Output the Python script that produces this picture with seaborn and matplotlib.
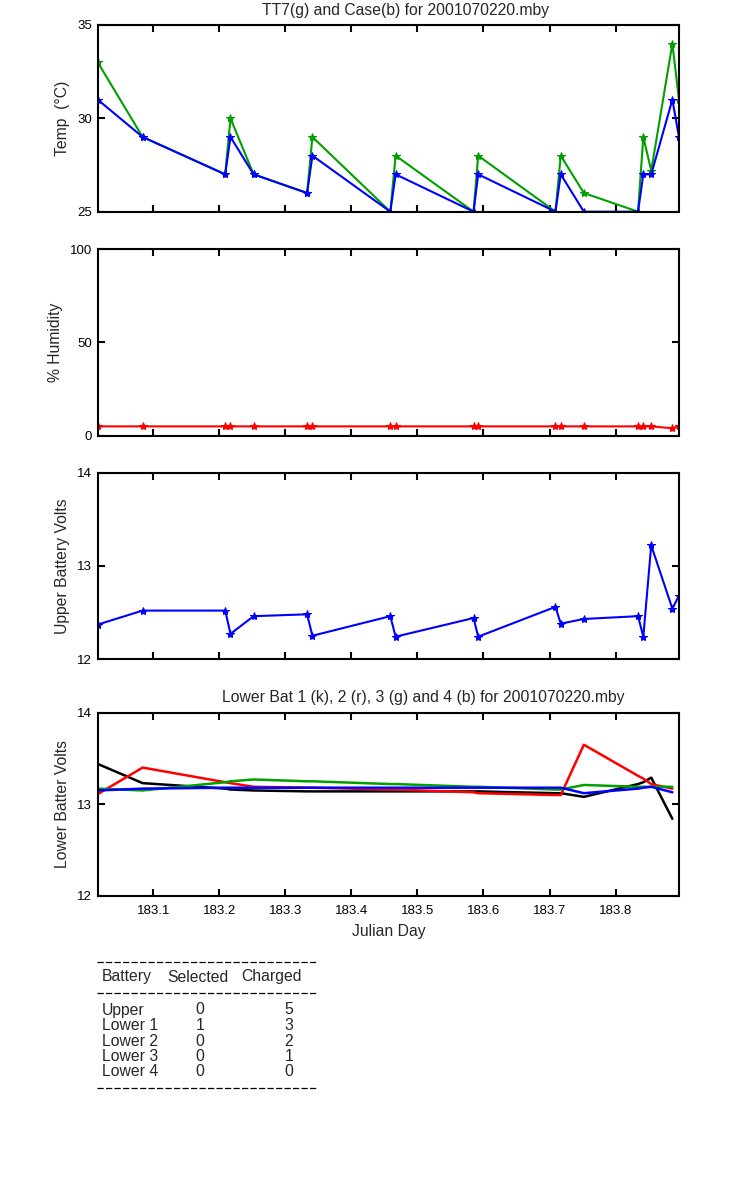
import pandas as pd
import matplotlib
matplotlib.use("Agg")
import matplotlib.pyplot as plt
from matplotlib.lines import Line2D
import seaborn as sns

# julian day of each record
day = [183.016, 183.084, 183.209, 183.217, 183.252, 183.333, 183.341, 183.459,
       183.467, 183.585, 183.592, 183.709, 183.717, 183.752, 183.834, 183.842,
       183.854, 183.886, 183.896]

# temperatures
tt7 = [33, 29, 27, 30, 27, 26, 29, 25, 28, 25, 28, 25, 28, 26, 25, 29, 27.2, 34, 31]
case = [31, 29, 27, 29, 27, 26, 28, 25, 27, 25, 27, 25, 27, 25, 25, 27, 27, 31, 29]

# humidity
humidity = [5, 5, 5, 5, 5, 5, 5, 5, 5, 5, 5, 5, 5, 5, 5, 5, 5, 4, 5]

# upper battery
upper_volts = [12.37, 12.52, 12.52, 12.27, 12.46, 12.48, 12.25, 12.46, 12.24, 12.44,
               12.24, 12.56, 12.38, 12.43, 12.46, 12.24, 13.22, 12.54, 12.68]

# lower batteries (no record at the last time)
lower_day = day[:-1]
lower1 = [13.44, 13.23, 13.17, 13.16, 13.15, 13.14, 13.14, 13.14, 13.14, 13.14,
          13.14, 13.12, 13.12, 13.08, 13.22, 13.24, 13.29, 12.84]
lower2 = [13.11, 13.40, 13.24, 13.23, 13.19, 13.18, 13.18, 13.16, 13.16, 13.13,
          13.12, 13.10, 13.10, 13.65, 13.31, 13.28, 13.22, 13.17]
lower3 = [13.17, 13.15, 13.24, 13.25, 13.27, 13.25, 13.25, 13.22, 13.22, 13.19,
          13.19, 13.16, 13.16, 13.21, 13.19, 13.19, 13.19, 13.19]
lower4 = [13.15, 13.17, 13.18, 13.18, 13.18, 13.18, 13.18, 13.18, 13.18, 13.18,
          13.18, 13.18, 13.18, 13.12, 13.17, 13.18, 13.19, 13.13]

# charge table
batteries = ["Upper", "Lower 1", "Lower 2", "Lower 3", "Lower 4"]
selected = [0, 1, 0, 0, 0]
charged = [5, 3, 2, 1, 0]

GREEN = "#00a000"
FS_TICK = 9.5
FS = 11.3

sns.set_theme(style="ticks")
plt.rcParams["font.family"] = ["Liberation Sans", "DejaVu Sans"]
plt.rcParams["font.size"] = FS
plt.rcParams["axes.linewidth"] = 1.5

fig = plt.figure(figsize=(7.5, 12), dpi=100)

xticks = [183.1, 183.2, 183.3, 183.4, 183.5, 183.6, 183.7, 183.8]
xlim = (day[0], day[-1])


def style_axes(ax, ylim, yticks, show_x=False):
    ax.set_xlim(*xlim)
    ax.set_ylim(*ylim)
    ax.set_xticks(xticks)
    ax.set_yticks(yticks)
    ax.tick_params(direction="in", length=5, width=1.5, top=True, right=True,
                   labelsize=FS_TICK, colors="black")
    ax.tick_params(axis="y", pad=4)
    ax.tick_params(axis="x", pad=7)
    if show_x:
        ax.set_xticklabels([f"{t:.1f}" for t in xticks])
    else:
        ax.set_xticklabels([])
    ax.set_xlabel("")
    for s in ax.spines.values():
        s.set_color("black")


W = 0.775
L = 0.1303
MS = 6

# temperature
ax1 = fig.add_axes([L, 0.8236, W, 0.1556])
t_df = pd.DataFrame({"day": day, "tt7": tt7, "case": case})
sns.lineplot(data=t_df, x="day", y="tt7", color=GREEN, marker="*", markersize=MS,
             markeredgecolor=GREEN, linewidth=1.5, estimator=None, ax=ax1)
sns.lineplot(data=t_df, x="day", y="case", color="blue", marker="*", markersize=MS,
             markeredgecolor="blue", linewidth=1.5, estimator=None, ax=ax1)
style_axes(ax1, (25, 35), [25, 30, 35])
ax1.set_ylabel("Temp  (°C)", fontsize=FS, labelpad=5)
ax1.set_title("TT7(g) and Case(b) for 2001070220.mby", fontsize=FS, x=0.53, pad=7)

# humidity
ax2 = fig.add_axes([L, 0.6369, W, 0.1556])
h_df = pd.DataFrame({"day": day, "humidity": humidity})
sns.lineplot(data=h_df, x="day", y="humidity", color="red", marker="*", markersize=MS,
             markeredgecolor="red", linewidth=1.5, estimator=None, ax=ax2)
style_axes(ax2, (0, 100), [0, 50, 100])
ax2.set_ylabel("% Humidity", fontsize=FS, labelpad=5)

# upper battery
ax3 = fig.add_axes([L, 0.4508, W, 0.1553])
u_df = pd.DataFrame({"day": day, "volts": upper_volts})
sns.lineplot(data=u_df, x="day", y="volts", color="blue", marker="*", markersize=MS,
             markeredgecolor="blue", linewidth=1.5, estimator=None, ax=ax3)
style_axes(ax3, (12, 14), [12, 13, 14])
ax3.set_ylabel("Upper Battery Volts", fontsize=FS, labelpad=5)

# lower batteries
ax4 = fig.add_axes([L, 0.2536, W, 0.1525])
lo_df = pd.DataFrame({"day": lower_day, "1": lower1, "2": lower2, "3": lower3, "4": lower4})
lo_long = lo_df.melt(id_vars="day", var_name="bat", value_name="volts")
sns.lineplot(data=lo_long, x="day", y="volts", hue="bat",
             palette={"1": "black", "2": "red", "3": GREEN, "4": "blue"},
             linewidth=1.8, estimator=None, legend=False, ax=ax4)
style_axes(ax4, (12, 14), [12, 13, 14], show_x=True)
ax4.set_ylabel("Lower Batter Volts", fontsize=FS, labelpad=5)
ax4.set_xlabel("Julian Day", fontsize=FS, labelpad=5)
ax4.set_title("Lower Bat 1 (k), 2 (r), 3 (g) and 4 (b) for 2001070220.mby",
              fontsize=FS, x=0.56, pad=8)


# charge table
def fx(px):
    return px / 750


def fy(py):
    return 1 - py / 1200


def dash_rule(py):
    fig.add_artist(Line2D([fx(97), fx(318)], [fy(py), fy(py)], transform=fig.transFigure,
                          color="black", linewidth=0.9, linestyle=(0, (5, 1.8))))


dash_rule(962)
fig.text(fx(102), fy(977), "Battery", fontsize=FS, va="center", ha="left")
fig.text(fx(167), fy(977), "Selected", fontsize=FS, va="center", ha="left")
fig.text(fx(241), fy(977), "Charged", fontsize=FS, va="center", ha="left")
dash_rule(993)
for i, (b, s, c) in enumerate(zip(batteries, selected, charged)):
    y = fy(1010 + 15.5 * i)
    fig.text(fx(102), y, b, fontsize=FS, va="center", ha="left")
    fig.text(fx(200), y, str(s), fontsize=FS, va="center", ha="center")
    fig.text(fx(289), y, str(c), fontsize=FS, va="center", ha="center")
dash_rule(1088)

fig.savefig("out.png", dpi=100, facecolor="white")
